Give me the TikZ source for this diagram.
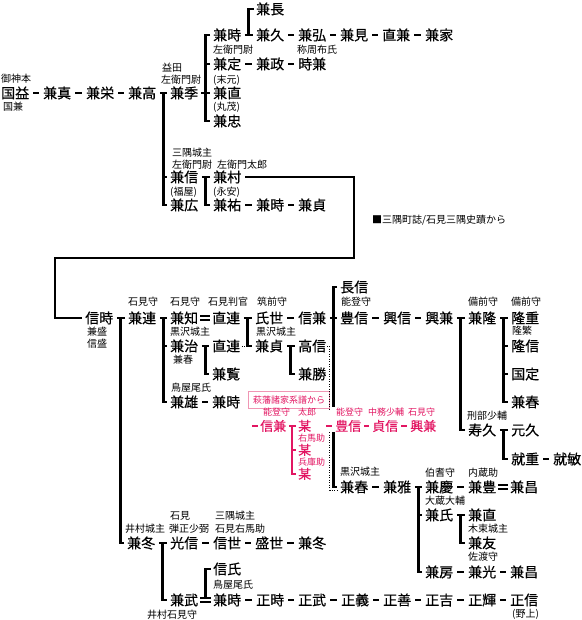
\documentclass[tikz,border=0pt]{standalone}
\usepackage{fontspec}
\setmainfont{Noto Sans CJK JP}
\newfontfamily\namefont{Noto Sans CJK JP}[FakeBold=0.45]
\usetikzlibrary{calc}
\definecolor{kred}{RGB}{226,22,98}
\definecolor{kpink}{RGB}{240,150,180}
\tikzset{
 nm/.style={font=\namefont\fontsize{14}{14}\selectfont, inner sep=0pt, text height=12.3pt, text depth=1.7pt, anchor=west},
 lb/.style={font=\fontsize{10}{10}\selectfont, inner sep=0pt, text height=8.8pt, text depth=1.2pt, anchor=west},
 rnm/.style={font=\namefont\fontsize{13}{13}\selectfont, inner sep=0pt, text height=11.4pt, text depth=1.6pt, anchor=west, text=kred},
 rlb/.style={font=\fontsize{9}{9}\selectfont, inner sep=0pt, text height=7.9pt, text depth=1.1pt, anchor=west, text=kred},
 br/.style={line width=2.6pt},
 rbr/.style={line width=2.4pt, draw=kred},
 dsh/.style={line width=2.4pt, shorten <=4pt, shorten >=4pt},
 rdsh/.style={line width=2.2pt, draw=kred, shorten <=3pt, shorten >=3pt},
 eq/.style={double, double distance=2.6pt, line width=1.3pt, shorten <=2pt, shorten >=2pt},
 dotl/.style={line width=1pt, dash pattern=on 1pt off 1.5pt},
 srcbox/.style={draw=kpink, line width=0.8pt, text=kred, font=\fontsize{9}{9}\selectfont, inner xsep=4.5pt, inner ysep=0pt, minimum height=17pt, text height=7.9pt, text depth=1.1pt},
}
\begin{document}
\begin{tikzpicture}[x=1pt,y=-1pt]
\useasboundingbox (0,0) rectangle (581,620);
% ---------- upper part ----------
\node[nm] (n1) at (1,93) {国益};
\node[nm] (n2) at (43,93) {兼真};
\node[nm] (n3) at (86,93) {兼栄};
\node[nm] (n4) at (128,93) {兼高};
\node[nm] (n5) at (170,93) {兼季};
\node[nm] (t1) at (213,35) {兼時};
\node[nm] (t2) at (213,64) {兼定};
\node[nm] (t3) at (213,93) {兼直};
\node[nm] (t4) at (213,121) {兼忠};
\node[nm] (u1) at (256,9) {兼長};
\node[nm] (u2) at (256,35) {兼久};
\node[nm] (u3) at (298,35) {兼弘};
\node[nm] (u4) at (340,35) {兼見};
\node[nm] (u5) at (382,35) {直兼};
\node[nm] (u6) at (425,35) {兼家};
\node[nm] (v1) at (256,64) {兼政};
\node[nm] (v2) at (298,64) {時兼};
\node[nm] (w1) at (170,177) {兼信};
\node[nm] (w2) at (170,205) {兼広};
\node[nm] (x1) at (213,177) {兼村};
\node[nm] (x2) at (213,205) {兼祐};
\node[nm] (x3) at (256,205) {兼時};
\node[nm] (x4) at (298,205) {兼貞};
% labels upper
\node[lb] (la1) at (1,79) {御神本};
\node[lb] (la2) at (3,107) {国兼};
\node[lb] (la3) at (162,68) {益田};
\node[lb] (la4) at (161,80) {左衛門尉};
\node[lb] (la5) at (213,50) {左衛門尉};
\node[lb] (la6) at (297,50) {称周布氏};
\node[lb] (la7) at (213,80) {(末元)};
\node[lb] (la8) at (213,107) {(丸茂)};
\node[lb] (la9) at (172,153) {三隅城主};
\node[lb] (la10) at (172,165) {左衛門尉};
\node[lb] (la11) at (217,165) {左衛門太郎};
\node[lb] (la12) at (170,192) {(福屋)};
\node[lb] (la13) at (213,192) {(永安)};
\node[lb] (note) at (372,220) {■三隅町誌/石見三隅史蹟から};
% connectors upper
\draw[dsh] (n1) -- (n2);
\draw[dsh] (n2) -- (n3);
\draw[dsh] (n3) -- (n4);
\draw[dsh] (u2) -- (u3);
\draw[dsh] (u3) -- (u4);
\draw[dsh] (u4) -- (u5);
\draw[dsh] (u5) -- (u6);
\draw[dsh] (t2) -- (v1);
\draw[dsh] (v1) -- (v2);
\draw[dsh] (x2) -- (x3);
\draw[dsh] (x3) -- (x4);
% 兼高 -> 兼季 / 兼信 / 兼広
\coordinate (m1) at ($(n4.east)!0.5!(n5.west)$);
\draw[br] ([xshift=3.5pt]n4.east) -- ([xshift=-3pt]n5.west);
\draw[br] (m1) |- ([xshift=-3pt]w2.west);
\draw[br] (m1 |- w1.west) -- ([xshift=-3pt]w1.west);
% 兼季 -> 兼時 .. 兼忠
\coordinate (m2) at ($(n5.east)!0.5!(t3.west)$);
\draw[br] ([xshift=3pt]n5.east) -- ([xshift=-3pt]t3.west);
\draw[br] ([xshift=-3pt]t1.west) -| (m2) |- ([xshift=-3pt]t4.west);
\draw[br] (m2 |- t2.west) -- ([xshift=-3pt]t2.west);
% 兼時 -> 兼久 / 兼長
\coordinate (m3) at ($(t1.east)!0.5!(u2.west)$);
\draw[br] ([xshift=3.5pt]t1.east) -- ([xshift=-3pt]u2.west);
\draw[br] (m3) |- ([xshift=-2pt]u1.west);
% 兼信 -> 兼村 / 兼祐
\coordinate (m4) at ($(w1.east)!0.5!(x1.west)$);
\draw[br] ([xshift=3.5pt]w1.east) -- ([xshift=-3pt]x1.west);
\draw[br] (m4) |- ([xshift=-3pt]x2.west);
% ---------- lower part ----------
\node[nm] (a1) at (85,318) {信時};
\node[nm] (a2) at (128,318) {兼連};
\node[nm] (b1) at (170,318) {兼知};
\node[nm] (b2) at (170,346) {兼治};
\node[nm] (b3) at (170,402) {兼雄};
\node[nm] (c1) at (212,318) {直連};
\node[nm] (c2) at (212,346) {直連};
\node[nm] (c3) at (212,374) {兼覧};
\node[nm] (c4) at (212,402) {兼時};
\node[nm] (d1) at (255,318) {氏世};
\node[nm] (d2) at (255,346) {兼貞};
\node[nm] (e1) at (298,318) {信兼};
\node[nm] (e2) at (298,346) {高信};
\node[nm] (e3) at (298,374) {兼勝};
\node[nm] (f0) at (340,287) {長信};
\node[nm] (f1) at (340,318) {豊信};
\node[nm] (f2) at (383,318) {興信};
\node[nm] (f3) at (425,318) {興兼};
\node[nm] (g1) at (468,318) {兼隆};
\node[nm] (g2) at (468,430) {寿久};
\node[nm] (h1) at (511,318) {隆重};
\node[nm] (h2) at (511,346) {隆信};
\node[nm] (h3) at (511,374) {国定};
\node[nm] (h4) at (511,402) {兼春};
\node[nm] (i1) at (511,430) {元久};
\node[nm] (i2) at (511,459) {就重};
\node[nm] (i3) at (553,459) {就敏};
\node[rnm] (r1) at (260,426) {信兼};
\node[rnm] (r2) at (298,426) {某};
\node[rnm] (r3) at (298,450) {某};
\node[rnm] (r4) at (298,474) {某};
\node[rnm] (r5) at (335,426) {豊信};
\node[rnm] (r6) at (372,426) {貞信};
\node[rnm] (r7) at (410,426) {興兼};
\node[nm] (j1) at (340,487) {兼春};
\node[nm] (j2) at (383,487) {兼雅};
\node[nm] (k1) at (425,487) {兼慶};
\node[nm] (k2) at (425,515) {兼氏};
\node[nm] (k3) at (425,572) {兼房};
\node[nm] (l1) at (468,487) {兼豊};
\node[nm] (l2) at (510,487) {兼昌};
\node[nm] (o3) at (468,515) {兼直};
\node[nm] (o4) at (468,543) {兼友};
\node[nm] (o1) at (468,572) {兼光};
\node[nm] (o2) at (510,572) {兼昌};
\node[nm] (p1) at (127,543) {兼冬};
\node[nm] (q1) at (170,543) {光信};
\node[nm] (q2) at (170,600) {兼武};
\node[nm] (s1) at (213,543) {信世};
\node[nm] (s2) at (255,543) {盛世};
\node[nm] (s3) at (298,543) {兼冬};
\node[nm] (y0) at (213,569) {信氏};
\node[nm] (y1) at (213,600) {兼時};
\node[nm] (y2) at (256,600) {正時};
\node[nm] (y3) at (298,600) {正武};
\node[nm] (y4) at (341,600) {正義};
\node[nm] (y5) at (383,600) {正善};
\node[nm] (y6) at (425,600) {正吉};
\node[nm] (y7) at (468,600) {正輝};
\node[nm] (y8) at (510,600) {正信};
% labels lower
\node[lb] (lb1) at (128,302) {石見守};
\node[lb] (lb2) at (170,302) {石見守};
\node[lb] (lb3) at (208,302) {石見判官};
\node[lb] (lb4) at (257,302) {筑前守};
\node[lb] (lb5) at (341,302) {能登守};
\node[lb] (lb6) at (468,302) {備前守};
\node[lb] (lb7) at (511,302) {備前守};
\node[lb] (lb8) at (87,332) {兼盛};
\node[lb] (lb9) at (87,344) {信盛};
\node[lb] (lb10) at (170,332) {黒沢城主};
\node[lb] (lb11) at (256,332) {黒沢城主};
\node[lb] (lb12) at (512,331) {隆繁};
\node[lb] (lb13) at (173,360) {兼春};
\node[lb] (lb14) at (171,388) {鳥屋尾氏};
\node[srcbox] (src) at (289,400) {萩藩諸家系譜から};
\node[rlb] (rl1) at (263,412) {能登守};
\node[rlb] (rl2) at (298,412) {太郎};
\node[rlb] (rl3) at (298,438) {右馬助};
\node[rlb] (rl4) at (298,462) {兵庫助};
\node[rlb] (rl5) at (336,412) {能登守};
\node[rlb] (rl6) at (368,412) {中務少輔};
\node[rlb] (rl7) at (408,412) {石見守};
\node[lb] (lb15) at (467,416) {刑部少輔};
\node[lb] (lb16) at (340,472) {黒沢城主};
\node[lb] (lb17) at (425,473) {伯耆守};
\node[lb] (lb18) at (468,473) {内蔵助};
\node[lb] (lb19) at (425,501) {大蔵大輔};
\node[lb] (lb20) at (468,529) {木束城主};
\node[lb] (lb21) at (468,557) {佐渡守};
\node[lb] (lb22) at (125,529) {井村城主};
\node[lb] (lb23) at (170,516) {石見};
\node[lb] (lb24) at (169,529) {弾正少弼};
\node[lb] (lb25) at (215,516) {三隅城主};
\node[lb] (lb26) at (215,529) {石見右馬助};
\node[lb] (lb27) at (213,585) {鳥屋尾氏};
\node[lb] (lb28) at (147,615) {井村石見守};
\node[lb] (lb29) at (512,614) {(野上)};
% frame from 兼村 to 信時
\draw[br] ([xshift=4pt]x1.east) -| (354,258) -| ([xshift=-30pt]a1.west) -- ([xshift=-3pt]a1.west);
% dashes lower
\draw[dsh] (d1) -- (e1);
\draw[dsh] (f1) -- (f2);
\draw[dsh] (f2) -- (f3);
\draw[dsh] (i2) -- (i3);
\draw[dsh] (j1) -- (j2);
\draw[dsh] (k1) -- (l1);
\draw[dsh] (k3) -- (o1);
\draw[dsh] (o1) -- (o2);
\draw[dsh] (q1) -- (s1);
\draw[dsh] (s1) -- (s2);
\draw[dsh] (s2) -- (s3);
\draw[dsh] (b3) -- (c4);
\draw[dsh] (y1) -- (y2);
\draw[dsh] (y2) -- (y3);
\draw[dsh] (y3) -- (y4);
\draw[dsh] (y4) -- (y5);
\draw[dsh] (y5) -- (y6);
\draw[dsh] (y6) -- (y7);
\draw[dsh] (y7) -- (y8);
\draw[eq] (b1) -- (c1);
\draw[eq] (l1) -- (l2);
\draw[eq] (q2) -- (y1);
% 信時 -> 兼連 / 兼冬
\coordinate (m5) at ($(a1.east)!0.5!(a2.west)$);
\draw[br] ([xshift=3.5pt]a1.east) -- ([xshift=-3pt]a2.west);
\draw[br] (m5) |- ([xshift=-3pt]p1.west);
% 兼連 -> 兼知 / 兼治 / 兼雄
\coordinate (m6) at ($(a2.east)!0.5!(b1.west)$);
\draw[br] ([xshift=3.5pt]a2.east) -- ([xshift=-3pt]b1.west);
\draw[br] (m6) |- ([xshift=-3pt]b3.west);
\draw[br] (m6 |- b2.west) -- ([xshift=-3pt]b2.west);
% 直連 -> 氏世 / 兼貞
\coordinate (m7) at ($(c1.east)!0.5!(d1.west)$);
\draw[br] ([xshift=3.5pt]c1.east) -- ([xshift=-3pt]d1.west);
\draw[br] (m7) |- ([xshift=-3pt]d2.west);
\draw[dotl] ([xshift=1.5pt]c2.east) -- (m7 |- c2.east);
% 兼治 -> 直連 / 兼覧
\coordinate (m8) at ($(b2.east)!0.5!(c2.west)$);
\draw[br] ([xshift=3.5pt]b2.east) -- ([xshift=-3pt]c2.west);
\draw[br] (m8) |- ([xshift=-3pt]c3.west);
% 兼貞 -> 高信 / 兼勝
\coordinate (m9) at ($(d2.east)!0.5!(e2.west)$);
\draw[br] ([xshift=3.5pt]d2.east) -- ([xshift=-3pt]e2.west);
\draw[br] (m9) |- ([xshift=-3pt]e3.west);
% 信兼 -> 長信 / 豊信 / ... 兼春
\coordinate (m10) at ($(e1.east)!0.5!(f1.west)$);
\draw[br] ([xshift=3.5pt]e1.east) -- ([xshift=-3pt]f1.west);
\draw[br] ([xshift=-3pt]f0.west) -| ($(m10)+(0,89)$);
\draw[br] ($(m10)+(0,114)$) |- ([xshift=-3pt]j1.west);
% dotted 高信 -> 兼春
\coordinate (dt) at ([xshift=3.5pt]e2.east);
\draw[dotl] ([xshift=1pt]e2.east) -- (dt) -- ($(dt)+(0,63)$);
\draw[dotl] ($(dt)+(0,86)$) |- ([xshift=-3pt,yshift=-3pt]j1.west);
% 興兼 -> 兼隆 / 寿久
\coordinate (m11) at ($(f3.east)!0.5!(g1.west)$);
\draw[br] ([xshift=3.5pt]f3.east) -- ([xshift=-3pt]g1.west);
\draw[br] (m11) |- ([xshift=-3pt]g2.west);
% 兼隆 -> 隆重 .. 兼春
\coordinate (m12) at ($(g1.east)!0.5!(h1.west)$);
\draw[br] ([xshift=3.5pt]g1.east) -- ([xshift=-3pt]h1.west);
\draw[br] (m12) |- ([xshift=-3pt]h4.west);
\draw[br] (m12 |- h2.west) -- ([xshift=-3pt]h2.west);
\draw[br] (m12 |- h3.west) -- ([xshift=-3pt]h3.west);
% 寿久 -> 元久 / 就重
\coordinate (m13) at ($(g2.east)!0.5!(i1.west)$);
\draw[br] ([xshift=3.5pt]g2.east) -- ([xshift=-3pt]i1.west);
\draw[br] (m13) |- ([xshift=-3pt]i2.west);
% red lineage
\draw[rdsh, shorten <=0pt, shorten >=0pt] ([xshift=-8pt]r1.west) -- ([xshift=-2pt]r1.west);
\draw[rdsh, shorten <=0pt, shorten >=0pt] ([xshift=-9pt]r5.west) -- ([xshift=-3pt]r5.west);
\draw[rdsh] (r5) -- (r6);
\draw[rdsh] (r6) -- (r7);
\coordinate (m14) at ($(r1.east)!0.5!(r2.west)$);
\draw[rbr] ([xshift=3pt]r1.east) -- ([xshift=-2.5pt]r2.west);
\draw[rbr] (m14) |- ([xshift=-2.5pt]r4.west);
\draw[rbr] (m14 |- r3.west) -- ([xshift=-2.5pt]r3.west);
% 兼雅 -> 兼慶 / 兼氏 / 兼房
\coordinate (m15) at ($(j2.east)!0.5!(k1.west)$);
\draw[br] ([xshift=3.5pt]j2.east) -- ([xshift=-3pt]k1.west);
\draw[br] (m15) |- ([xshift=-3pt]k3.west);
\draw[br] (m15 |- k2.west) -- ([xshift=-3pt]k2.west);
% 兼氏 -> 兼直 / 兼友
\coordinate (m16) at ($(k2.east)!0.5!(o3.west)$);
\draw[br] ([xshift=3.5pt]k2.east) -- ([xshift=-3pt]o3.west);
\draw[br] (m16) |- ([xshift=-3pt]o4.west);
% 兼冬 -> 光信 / 兼武
\coordinate (m17) at ($(p1.east)!0.5!(q1.west)$);
\draw[br] ([xshift=3.5pt]p1.east) -- ([xshift=-3pt]q1.west);
\draw[br] (m17) |- ([xshift=-3pt]q2.west);
% 兼武 = 兼時 with 信氏
\coordinate (m18) at ($(q2.east)!0.5!(y1.west)$);
\draw[br] ($(m18)+(0,-2)$) |- ([xshift=-2pt]y0.west);
\end{tikzpicture}
\end{document}
